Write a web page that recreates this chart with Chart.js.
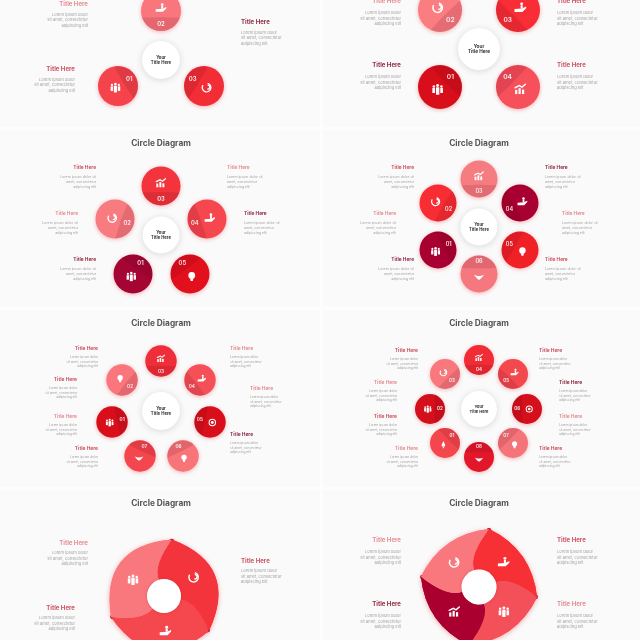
<!DOCTYPE html>
<html><head><meta charset="utf-8">
<script src="https://cdn.jsdelivr.net/npm/chart.js@4"></script>
<style>
html,body{margin:0;padding:0;background:#fdfdfd;width:640px;height:640px;overflow:hidden}
canvas{position:absolute;display:block;filter:blur(.35px)}
</style></head><body>
<canvas id="main" width="640" height="640" style="left:0;top:0;width:640px;height:640px"></canvas>
<canvas id="d3" width="160" height="160" style="left:84px;top:516px;width:160px;height:160px"></canvas>
<canvas id="d4" width="160" height="160" style="left:399px;top:507px;width:160px;height:160px"></canvas>
<script>
// ---- node positions are the diagram's values, in page units ----
const nodeX = [118,161,204, 440,440,518,518, 133,115,161,207,190, 438,438,479,520,520,479,
               112,122,161,200,210,183,140, 445,430,445,479,513,527,513,479];
const nodeY = [86,11,86, 87,10,10,87, 274,219,186,219,274, 250,203,179,203,250,274,
               422,380,361,380,422,456,456, 443,409,374,360,374,409,443,457];
const nodeLabels = ["01","02","03", "01","02","03","04", "01","02","03","04","05",
                    "01","02","03","04","05","06", "01","02","03","04","05","06","07",
                    "01","02","03","04","05","06","07","08"];
const nodeIcons = ["people","hand","phone", "people","phone","hand","chart",
                   "people","phone","chart","hand","bulb",
                   "people","phone","chart","hand","bulb","shake",
                   "people","bulb","chart","hand","gear","bulb","shake",
                   "rocket","people","phone","chart","hand","gear","bulb","shake"];
const nodePanel = [0,0,0, 1,1,1,1, 2,2,2,2,2, 3,3,3,3,3,3, 4,4,4,4,4,4,4, 5,5,5,5,5,5,5,5];
const hubX = [161,479,161,479,161,479];
const hubY = [60,49,235,227,411,409];
const titleSlots = [[161,144],[479,144],[161,324],[479,324],[161,504],[479,504]];
const mainTitle = "Circle Diagram";
const hubLines = ["Your","Title Here"];
const blockTitle = "Title Here";
const bodyA = ["Lorem ipsum dolor","sit amet, consectetur","adipiscing elit"];
const bodyB = ["Lorem ipsum dolor sit","amet, consectetur","adipiscing elit"];
// text blocks: panel, x, y
const blockPanel = [0,0,0, 1,1,1,1, 2,2,2,2,2, 3,3,3,3,3,3, 4,4,4,4,4,4,4, 5,5,5,5,5,5,5,5, 6,6,6, 7,7,7,7];
const blockX = [88,241,75, 401,557,401,557, 96,227,78,244,96, 414,545,396,562,414,545,
                98,230,77,250,77,230,98, 418,539,397,559,397,559,418,539, 88,241,75, 401,557,401,557];
const blockY = [4,22,69, 1,1,65,65, 168,168,214,214,260, 168,168,214,214,260,260,
                349,349,380,389,417,435,449, 351,351,383,383,417,417,449,449, 543,561,608, 540,540,604,604];
const blockTone = [0,2,1, 0,1,2,1, 1,0,0,2,2, 1,2,0,0,2,1, 1,0,1,0,0,2,1, 1,1,0,2,1,0,0,1, 0,1,1, 0,1,2,0];
// doughnuts
const sliceValues3 = [1,1,1];
const sliceValues4 = [1,1,1,1];
const sliceIcons3 = ["phone","hand","people"];
const sliceIcons4 = ["hand","people","chart","phone"];

// ---- styles, kept apart from the values ----
const nodeColors = ["#f4434b","#f8767c","#f32d35", "#d80f1b","#fa7d82","#f92d35","#f6505a",
  "#a50533","#f87b80","#f3343c","#f6474e","#e2101c",
  "#a80030","#f82c33","#f57c80","#a80030","#f02027","#f5787e",
  "#d80f1b","#f8767c","#ee2e38","#f55058","#d80f1b","#f77479","#f4464e",
  "#f4474d","#d4101c","#f8787d","#f22c34","#f4484f","#d4101c","#f57479","#e3172a"];
const nodeRadius = [20,22,19.5,18.5,15.7,15];
const hubRadius = [19,21,18.5,18.5,19,18];
const tones = ["#e39096","#cc5463","#922c45"];
const titleFont = [6.1,6.1,4.8,4.8,4.9,4.9,6.1,6.1];
const bodyFont = [4.1,4.1,3.5,3.5,3.2,3.2,4.1,4.1];
const bodyFirst = [10.5,12,9.3,9.3,8.5,8.5,10,12];
const bodyStep = [5.5,5.5,4.7,4.7,4.3,4.3,5.5,5.5];
const FAM = '"Inter","Open Sans",sans-serif';

function icon(c,kind,x,y,s){
  c.save();c.translate(x,y);c.scale(s,s);c.fillStyle="#fff";c.strokeStyle="#fff";c.lineWidth=.28;c.lineCap="round";
  const dot=(a,b,r)=>{c.beginPath();c.arc(a,b,r,0,7);c.fill();};
  const poly=(p)=>{c.beginPath();p.forEach((q,i)=>i?c.lineTo(q[0],q[1]):c.moveTo(q[0],q[1]));c.closePath();c.fill();};
  if(kind==="people"){
    dot(-.72,-.55,.24);dot(.72,-.55,.24);dot(0,-.72,.28);
    c.fillRect(-1,-.25,.5,.95);c.fillRect(.5,-.25,.5,.95);c.fillRect(-.32,-.38,.64,1.4);
  }else if(kind==="phone"){
    c.beginPath();c.arc(0,0,.9,-1.2,3.6);c.stroke();
    c.beginPath();c.arc(.25,-.1,.42,-1.4,1.6);c.stroke();
  }else if(kind==="chart"){
    c.fillRect(-1,.1,.42,.8);c.fillRect(-.35,-.2,.42,1.1);c.fillRect(.3,.05,.42,.85);
    c.beginPath();c.moveTo(-1,-.3);c.lineTo(-.2,-.7);c.lineTo(.3,-.4);c.lineTo(.95,-.95);c.stroke();
  }else if(kind==="hand"){
    poly([[-1.1,.25],[.3,.15],[1.1,-.2],[1.1,.1],[.4,.8],[-1.1,.8]]);
    dot(.25,-.72,.28);c.fillRect(.05,-.45,.4,.6);
  }else if(kind==="bulb"){
    dot(0,-.2,.72);poly([[-.35,.4],[.35,.4],[.22,1],[-.22,1]]);
  }else if(kind==="gear"){
    c.beginPath();c.arc(0,0,.85,0,7);c.stroke();dot(0,0,.38);
  }else if(kind==="shake"){
    poly([[-1.15,-.45],[-.3,-.2],[.3,-.2],[1.15,-.45],[.5,.35],[0,.7],[-.5,.35]]);
  }else if(kind==="rocket"){
    poly([[0,-1],[.42,-.1],[.5,.55],[-.5,.55],[-.42,-.1]]);dot(0,.85,.2);
  }
  c.restore();
}

const diagramPlugin = {
  id:"diagram",
  beforeDatasetsDraw(chart){
    const c=chart.ctx;
    c.save();c.fillStyle="#fafafa";
    [[0,-2,320,129],[323,-2,317,129],[0,130,320,177],[323,130,317,177],[0,310,320,177],[323,310,317,177],[0,490,320,150],[323,490,317,150]]
      .forEach(r=>c.fillRect(r[0],r[1],r[2],r[3]));
    c.restore();
  },
  beforeDatasetDraw(chart,args){
    const c=chart.ctx;
    const glow=args.index===0;
    c.shadowColor=glow?"rgba(240,40,50,.33)":"rgba(0,0,0,.14)";
    c.shadowBlur=glow?4:7;c.shadowOffsetY=1;
  },
  afterDatasetDraw(chart){
    const c=chart.ctx;c.shadowColor="transparent";c.shadowBlur=0;c.shadowOffsetY=0;
  },
  afterDatasetsDraw(chart){
    const c=chart.ctx, X=chart.scales.x, Y=chart.scales.y;
    const text=(t,x,y,f,col,al)=>{c.font=f;c.fillStyle=col;c.textAlign=al;c.textBaseline="middle";c.fillText(t,x,y);};
    chart.getDatasetMeta(0).data.forEach((pt,i)=>{
      const p=nodePanel[i], r=nodeRadius[p];
      const hx=X.getPixelForValue(hubX[p]), hy=Y.getPixelForValue(hubY[p]);
      const L=Math.hypot(hx-pt.x,hy-pt.y), ux=(hx-pt.x)/L, uy=(hy-pt.y)/L;
      c.save();
      c.beginPath();c.arc(pt.x,pt.y,r,0,7);c.clip();
      const ax=pt.x+ux*r*.36, ay=pt.y+uy*r*.36, px=-uy, py=ux;
      c.beginPath();
      c.moveTo(ax-px*r*1.3,ay-py*r*1.3);
      c.quadraticCurveTo(ax-ux*r*.1,ay-uy*r*.1,ax+px*r*1.3,ay+py*r*1.3);
      c.lineTo(ax+px*r*1.3+ux*r*2,ay+py*r*1.3+uy*r*2);
      c.lineTo(ax-px*r*1.3+ux*r*2,ay-py*r*1.3+uy*r*2);
      c.closePath();c.fillStyle="rgba(90,0,20,.13)";c.fill();
      c.restore();
      icon(c,nodeIcons[i],pt.x-ux*r*.15,pt.y-uy*r*.15,r*.24);
      text(nodeLabels[i],pt.x+ux*r*.66,pt.y+uy*r*.66,"600 "+(r*.3).toFixed(1)+"px "+FAM,"rgba(255,255,255,.9)","center");
    });
    chart.getDatasetMeta(1).data.forEach((pt,i)=>{
      const s=(hubRadius[i]*.225).toFixed(1);
      text(hubLines[0],pt.x,pt.y-2.6,"700 "+s+"px "+FAM,"#333","center");
      text(hubLines[1],pt.x,pt.y+2.4,"700 "+s+"px "+FAM,"#333","center");
    });
    titleSlots.forEach(t=>text(mainTitle,X.getPixelForValue(t[0]),Y.getPixelForValue(t[1]),"700 8.3px "+FAM,"#555","center"));
    blockX.forEach((bx,i)=>{
      const p=blockPanel[i], x=X.getPixelForValue(bx), y=Y.getPixelForValue(blockY[i]);
      const align=(bx>320?bx<479:bx<161)?"right":"left";
      text(blockTitle,x,y,"700 "+titleFont[p]+"px "+FAM,tones[blockTone[i]],align);
      const lines=(p===2||p===3)?bodyB:bodyA;
      lines.forEach((l,k)=>text(l,x,y+bodyFirst[p]+k*bodyStep[p],"400 "+bodyFont[p]+"px "+FAM,"#a3a3a3",align));
    });
  }
};

new Chart(document.getElementById("main"),{
  type:"bubble",
  data:{datasets:[
    {label:"nodes",data:nodeX.map((x,i)=>({x,y:nodeY[i],r:nodeRadius[nodePanel[i]]})),
     backgroundColor:nodeColors,borderWidth:0,hoverRadius:0},
    {label:"hubs",data:hubX.map((x,i)=>({x,y:hubY[i],r:hubRadius[i]})),
     backgroundColor:"#ffffff",borderWidth:0,hoverRadius:0}
  ]},
  options:{responsive:false,animation:false,devicePixelRatio:1,
    layout:{padding:0,autoPadding:false},
    plugins:{legend:{display:false},tooltip:{enabled:false},title:{display:false}},
    scales:{x:{type:"linear",min:0,max:640,display:false},y:{type:"linear",min:0,max:640,reverse:true,display:false}}
  },
  plugins:[diagramPlugin]
});

const swirlPlugin = {
  id:"swirl",
  beforeDatasetDraw(chart){
    const c=chart.ctx, ds=chart.data.datasets[0], arcs=chart.getDatasetMeta(0).data;
    const t=ds.twist, k=ds.bulge;
    const paths=arcs.map((a,i)=>{
      const P=(r,th)=>[a.x+r*Math.cos(th),a.y+r*Math.sin(th)];
      const ri=a.innerRadius, ro=a.outerRadius, s=a.startAngle, e=a.endAngle, m=(s+e)/2;
      const p=new Path2D();
      const cs=P(ri+(ro-ri)*.38,s-t*1.1), ce=P(ri+(ro-ri)*.38,e-t*1.1), oc=P(ro*k,m), st=P(ro,s), en=P(ro,e), ie=P(ri,e-t), is=P(ri,s-t);
      p.moveTo(is[0],is[1]);
      p.quadraticCurveTo(cs[0],cs[1],st[0],st[1]);
      p.quadraticCurveTo(oc[0],oc[1],en[0],en[1]);
      p.quadraticCurveTo(ce[0],ce[1],ie[0],ie[1]);
      p.arc(a.x,a.y,ri,e-t,s-t,true);
      p.closePath();
      return p;
    });
    c.save();
    c.shadowColor="rgba(240,40,50,.4)";c.shadowBlur=5;c.shadowOffsetY=1;
    paths.forEach((p,i)=>{c.fillStyle=ds.backgroundColor[i];c.fill(p);});
    c.shadowColor="transparent";c.shadowBlur=0;c.shadowOffsetY=0;
    arcs.forEach((a)=>{
      const x=a.x+a.outerRadius*Math.cos(a.startAngle), y=a.y+a.outerRadius*Math.sin(a.startAngle);
      c.beginPath();c.arc(x-1.6*Math.cos(a.startAngle),y-1.6*Math.sin(a.startAngle),2.4,0,7);
      c.fillStyle="#b00f25";c.fill();
    });
    paths.forEach((p,i)=>{c.fillStyle=ds.backgroundColor[i];c.fill(p);});
    arcs.forEach((a,i)=>{
      const m=(a.startAngle+a.endAngle)/2-.18;
      icon(c,ds.icons[i],a.x+35*Math.cos(m),a.y+35*Math.sin(m),5.2);
    });
    const a0=arcs[0];
    c.shadowColor="rgba(200,30,40,.35)";c.shadowBlur=3;
    c.beginPath();c.arc(a0.x,a0.y,a0.innerRadius,0,7);c.fillStyle="#fff";c.fill();
    c.restore();
    return false;
  }
};
function swirl(id,values,colors,icons,rot,radius,hole,bulge){
  new Chart(document.getElementById(id),{
    type:"doughnut",
    data:{labels:icons,datasets:[{data:values,backgroundColor:colors,borderWidth:0,twist:.45,bulge,icons}]},
    options:{responsive:false,animation:false,devicePixelRatio:1,rotation:rot,radius,cutout:(hole/radius*100)+"%",
      plugins:{legend:{display:false},tooltip:{enabled:false}}},
    plugins:[swirlPlugin]
  });
}
swirl("d3",sliceValues3,["#f3343c","#f4474e","#f8787d"],sliceIcons3,8,57,17,1.43);
swirl("d4",sliceValues4,["#f73036","#f4505a","#aa0030","#f8787d"],sliceIcons4,10,59,17.5,1.1);
</script>
</body></html>
